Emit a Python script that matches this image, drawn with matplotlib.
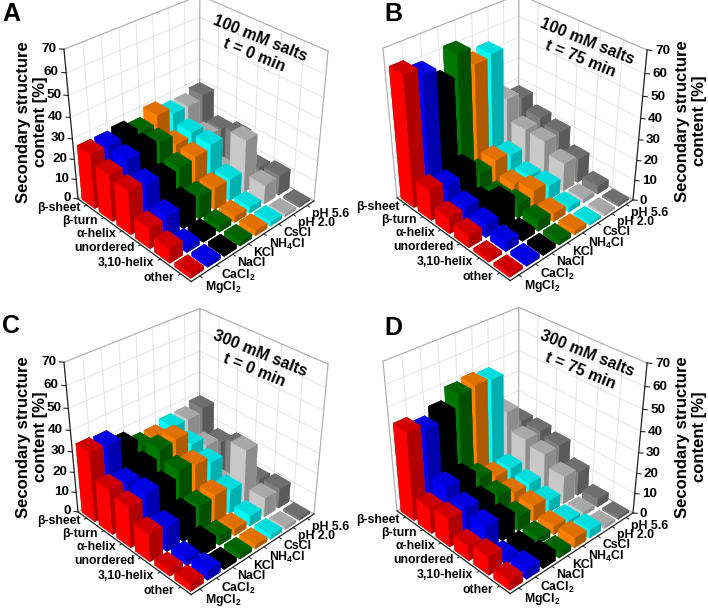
import numpy as np
import matplotlib
matplotlib.use("Agg")
import matplotlib.pyplot as plt

plt.rcParams["font.family"] = ["Liberation Sans", "DejaVu Sans"]
plt.rcParams["font.weight"] = "bold"
plt.rcParams["mathtext.fontset"] = "custom"
plt.rcParams["mathtext.default"] = "regular"
plt.rcParams["mathtext.rm"] = "Liberation Sans:bold"
plt.rcParams["axes3d.automargin"] = False

structures = ["β-sheet", "β-turn", "α-helix", "unordered", "3,10-helix", "other"]
salts = ["MgCl$_2$", "CaCl$_2$", "NaCl", "KCl", "NH$_4$Cl", "CsCl", "pH 2.0", "pH 5.6"]
z_ticks = [0, 10, 20, 30, 40, 50, 60, 70]

# rows: structures, columns: salts
values_a = [
    [27, 27, 28, 26, 30, 27, 27, 29],
    [23, 26, 27.5, 26, 21, 23, 17.5, 17],
    [21.5, 20, 18.5, 19.5, 20.5, 22.5, 5, 19],
    [10, 11, 12.5, 11, 11, 11, 26, 8],
    [7, 3, 3, 3, 3, 3, 9.5, 10],
    [2, 2, 2, 2, 2.5, 2, 1, 1],
]
values_b = [
    [62.5, 59, 51.5, 61.5, 53.5, 55, 30, 27],
    [15, 13, 16.5, 10, 12.5, 11, 20, 22],
    [8, 8.5, 6, 4.5, 6, 6, 19.5, 20],
    [6, 6.5, 12.5, 6.5, 9, 7, 14, 12],
    [1.5, 4.5, 3, 5, 4, 2.3, 1.8, 4],
    [1.5, 2, 2, 2, 2, 1, 0.8, 0.8],
]
values_c = [
    [34, 33.5, 29, 25, 25, 27, 27, 29],
    [22, 21, 25, 29, 30, 23.5, 19, 17],
    [20, 22, 21, 24.5, 23, 20, 5, 20],
    [13.5, 12, 13.5, 13, 14, 12, 27.5, 8.5],
    [2.8, 3.3, 6, 4.2, 3.3, 5, 9.5, 10],
    [3.5, 4.5, 2, 2, 2, 2, 1, 1],
]
values_d = [
    [43, 40, 43.5, 49, 50, 49, 30, 22],
    [12.5, 18.5, 18.5, 14.5, 11, 11, 21.5, 22],
    [14, 14.5, 13, 11.5, 8.5, 8.7, 19.5, 20],
    [7, 12, 10.5, 7, 8, 6, 14, 12],
    [9, 3, 3, 3.2, 4, 2.3, 1.8, 4],
    [4.5, 5, 5, 2.5, 5, 4, 1, 1],
]

# (left face, right face, top face) for each salt
salt_colors = [
    ("#ff0000", "#b00000", "#d00000"),
    ("#0000ff", "#0000b0", "#0000e0"),
    ("#000000", "#000000", "#000000"),
    ("#007800", "#005000", "#006400"),
    ("#ff8000", "#b05a00", "#e07000"),
    ("#00ffff", "#00b0b0", "#00dcdc"),
    ("#c8c8c8", "#8c8c8c", "#a8a8a8"),
    ("#808080", "#5a5a5a", "#6e6e6e"),
]


def draw_panel(fig, rect, values, axis_right, letter, letter_pos, title, title_pos):
    ax = fig.add_axes(rect, projection="3d", computed_zorder=False)
    ax.set_proj_type("persp", focal_length=0.45)
    ax.view_init(elev=33, azim=-43.6)
    ax.set_xlim(0, len(structures))
    ax.set_ylim(0, len(salts))
    ax.set_zlim(0, 70)
    ax.set_box_aspect((0.99, 1.01, 1.01), zoom=0.84)
    ax.set_axis_off()
    ax.patch.set_alpha(0)

    nx, ny = len(structures), len(salts)
    grid = "#e4e4e4"
    edge = "#b0b0b0"
    # wall grid
    for z in z_ticks:
        ax.plot([0, 0], [0, ny], [z, z], color=grid, lw=0.7, zorder=1)
        ax.plot([0, nx], [ny, ny], [z, z], color=grid, lw=0.7, zorder=1)
    for y in range(ny + 1):
        ax.plot([0, 0], [y, y], [0, 70], color=grid, lw=0.7, zorder=1)
    for x in range(nx + 1):
        ax.plot([x, x], [ny, ny], [0, 70], color=grid, lw=0.7, zorder=1)
    ax.plot([0, 0, nx], [0, ny, ny], [70, 70, 70], color=edge, lw=0.8, zorder=1)
    ax.plot([0, 0], [ny, ny], [0, 70], color=edge, lw=0.8, zorder=1)
    other_x, other_y = (0, 0) if axis_right else (nx, ny)
    ax.plot([other_x, other_x], [other_y, other_y], [0, 70], color=edge, lw=0.8, zorder=1)
    ax.plot([0, 0, nx], [0, ny, ny], [0, 0, 0], color=edge, lw=0.8, zorder=1)

    # bars, far ones first
    width = 0.76
    pad = (1 - width) / 2
    for i in range(nx):
        for j in range(ny):
            left, right, top = salt_colors[j]
            faces = [top, top, left, left, right, right]
            ax.bar3d(i + pad, j + pad, 0, width, width, values[i][j], color=faces,
                     edgecolor=faces, linewidth=0.2, shade=False, zorder=10 + i - j)

    # axis lines
    ax.plot([0, nx], [0, 0], [0, 0], color="#222222", lw=0.9, zorder=2)
    ax.plot([nx, nx], [0, ny], [0, 0], color="#222222", lw=0.9, zorder=2)
    zx, zy, sign = (nx, ny, 1) if axis_right else (0, 0, -1)
    ax.plot([zx, zx], [zy, zy], [0, 70], color="#222222", lw=0.9, zorder=2)
    for z in z_ticks:
        ax.plot([zx, zx + sign * 0.12], [zy, zy + sign * 0.12], [z, z], color="#222222", lw=0.8, zorder=2)
        ax.text(zx + sign * 0.2, zy + sign * 0.2, z, str(z), fontsize=9.7,
                ha="left" if axis_right else "right", va="center")

    for i, name in enumerate(structures):
        ax.plot([i + 0.5, i + 0.5], [0, -0.12], [0, 0], color="#222222", lw=0.7, zorder=2)
        ax.text(i + 0.5, -0.35, 0, name, fontsize=8.8, ha="right", va="center")
    for j, name in enumerate(salts):
        ax.plot([nx, nx + 0.12], [j + 0.5, j + 0.5], [0, 0], color="#222222", lw=0.7, zorder=2)
        ax.text(nx + 0.22, j + 0.5, 0, name, fontsize=8.8, ha="left", va="top",
                rotation=-22, rotation_mode="anchor")

    fig.text(letter_pos[0], letter_pos[1], letter, fontsize=18, ha="left", va="center")
    fig.text(title_pos[0], title_pos[1], title, fontsize=11.5, ha="center", va="center",
             rotation=-22, linespacing=1.25)
    return ax


fig = plt.figure(figsize=(7.08, 6.13), dpi=100)
W, H = 708, 613


def rect(x, y, size=354):
    # pixel position of the top left corner
    return [x / W, 1 - (y + size) / H, size / W, size / H]


draw_panel(fig, rect(14, -43), values_a, False, "A", (2 / W, 1 - 14 / H),
           "100 mM salts\nt = 0 min", (257 / W, 1 - 47 / H))
draw_panel(fig, rect(333, -44), values_b, True, "B", (384 / W, 1 - 14 / H),
           "100 mM salts\nt = 75 min", (584 / W, 1 - 50 / H))
draw_panel(fig, rect(14, 270), values_c, False, "C", (2 / W, 1 - 326 / H),
           "300 mM salts\nt = 0 min", (257 / W, 1 - 362 / H))
draw_panel(fig, rect(333, 269), values_d, True, "D", (384 / W, 1 - 328 / H),
           "300 mM salts\nt = 75 min", (584 / W, 1 - 362 / H))

label = "Secondary structure\ncontent [%]"
for x, y in [(32, 122), (691, 121), (32, 437), (691, 437)]:
    fig.text(x / W, 1 - y / H, label, fontsize=12, rotation=90, ha="center", va="center", linespacing=1.2)

fig.savefig("out.png", dpi=100)
